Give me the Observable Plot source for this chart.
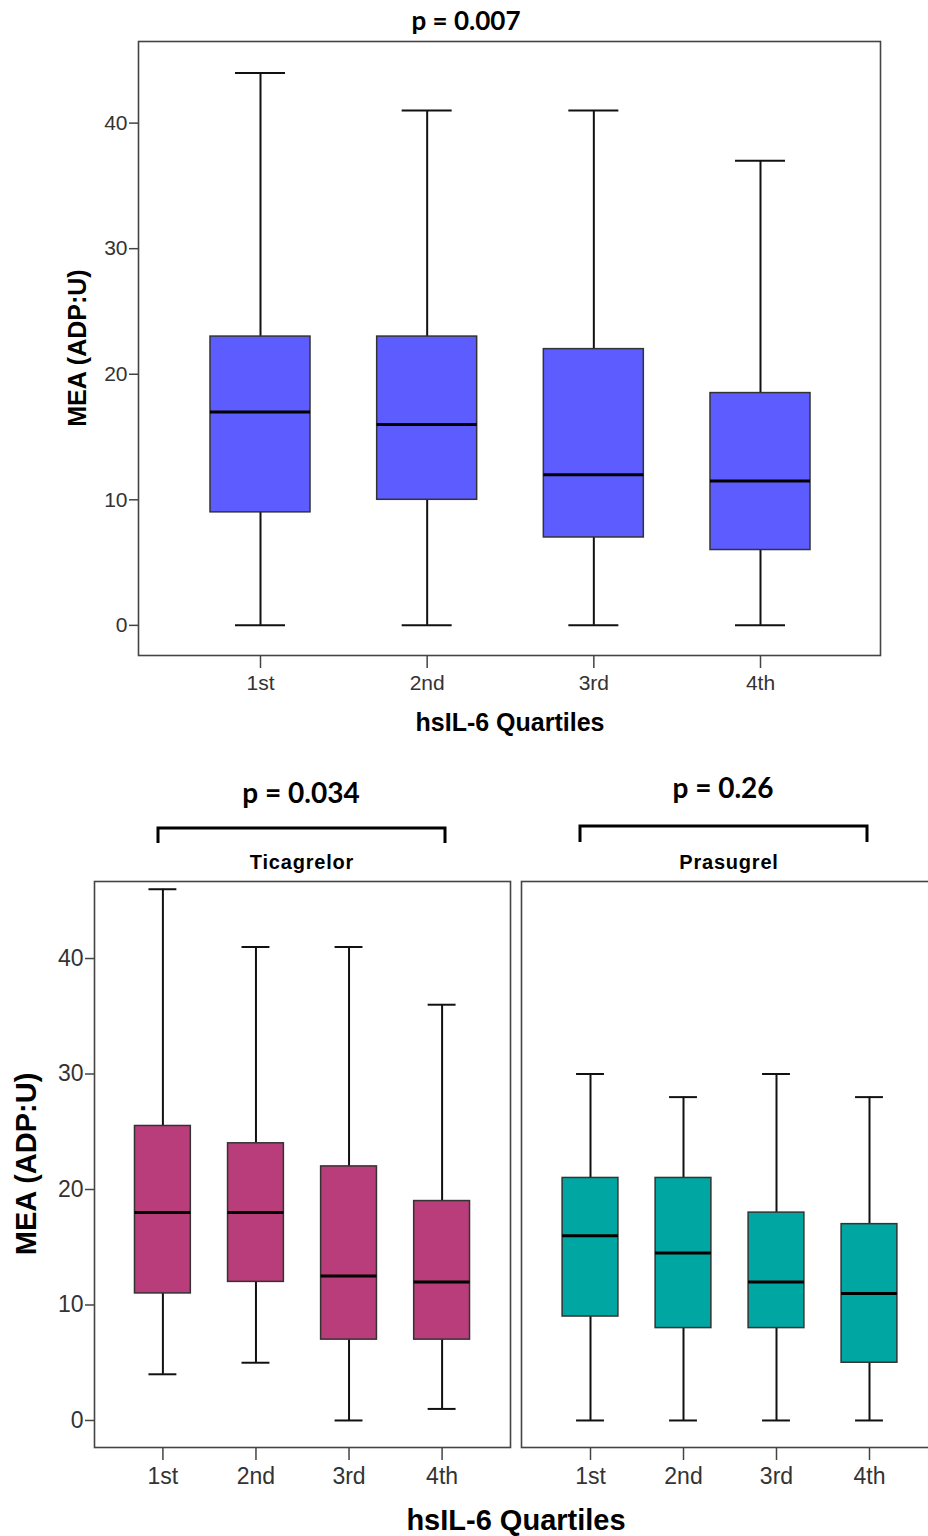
<!DOCTYPE html>
<html>
<head>
<meta charset="utf-8">
<script src="https://cdn.jsdelivr.net/npm/d3@7"></script>
<script src="https://cdn.jsdelivr.net/npm/@observablehq/plot@0.6"></script>
<style>
  html, body { margin: 0; padding: 0; background: #fff; }
  #root { position: relative; width: 928px; height: 1536px; overflow: hidden; background: #fff; }
  #root > * { position: absolute; }
</style>
</head>
<body>
<div id="root"></div>
<script>
// ---- data ----
const quartiles = ["1st", "2nd", "3rd", "4th"];
const yTicks = [0, 10, 20, 30, 40];

// All patients
const allMin = [0, 0, 0, 0];
const allQ1  = [9, 10, 7, 6];
const allMed = [17, 16, 12, 11.5];
const allQ3  = [23, 23, 22, 18.5];
const allMax = [44, 41, 41, 37];

// Ticagrelor
const ticaMin = [4, 5, 0, 1];
const ticaQ1  = [11, 12, 7, 7];
const ticaMed = [18, 18, 12.5, 12];
const ticaQ3  = [25.5, 24, 22, 19];
const ticaMax = [46, 41, 41, 36];

// Prasugrel
const prasMin = [0, 0, 0, 0];
const prasQ1  = [9, 8, 8, 5];
const prasMed = [16, 14.5, 12, 11];
const prasQ3  = [21, 21, 18, 17];
const prasMax = [30, 28, 30, 28];

const pAll = "p = 0.007";
const pTica = "p = 0.034";
const pPras = "p = 0.26";
const groupNames = ["Ticagrelor", "Prasugrel"];
const xTitle = "hsIL-6 Quartiles";
const yTitle = "MEA (ADP:U)";

const rowsOf = (mn, q1, md, q3, mx) => quartiles.map((q, k) => ({
  i: k + 1, q, min: mn[k], q1: q1[k], med: md[k], q3: q3[k], max: mx[k]
}));

const FONT = "'Liberation Sans', Arial, Helvetica, sans-serif";

function boxPlot({rows, color, width, height, mt, mb, ml, mr, xDomain, yDomain, showY, tickFont, tickFontY}) {
  const marks = [
    Plot.ruleX(rows, {x: "i", y1: "min", y2: "q1", stroke: "#111", strokeWidth: 2}),
    Plot.ruleX(rows, {x: "i", y1: "q3", y2: "max", stroke: "#111", strokeWidth: 2}),
    Plot.ruleY(rows, {y: "max", x1: d => d.i - 0.15, x2: d => d.i + 0.15, stroke: "#111", strokeWidth: 2}),
    Plot.ruleY(rows, {y: "min", x1: d => d.i - 0.15, x2: d => d.i + 0.15, stroke: "#111", strokeWidth: 2}),
    Plot.rect(rows, {x1: d => d.i - 0.3, x2: d => d.i + 0.3, y1: "q1", y2: "q3", fill: color, stroke: "#333", strokeWidth: 1.5}),
    Plot.ruleY(rows, {y: "med", x1: d => d.i - 0.3, x2: d => d.i + 0.3, stroke: "#000", strokeWidth: 3}),
    Plot.frame({stroke: "#444", strokeWidth: 1.6}),
    Plot.axisX({ticks: [1, 2, 3, 4], tickFormat: i => quartiles[i - 1], tickSize: 13, tickPadding: 7,
                fontSize: tickFont, label: null, stroke: "#444", strokeWidth: 1.5})
  ];
  if (showY) marks.push(Plot.axisY({ticks: yTicks, tickSize: 9, tickPadding: 2, fontSize: tickFontY,
                                    label: null, stroke: "#444", strokeWidth: 1.5}));
  return Plot.plot({
    width, height,
    marginTop: mt, marginBottom: mb, marginLeft: ml, marginRight: mr,
    x: {type: "linear", domain: xDomain, axis: null},
    y: {domain: yDomain, axis: null},
    style: {fontFamily: FONT, color: "#333", background: "transparent", overflow: "visible"},
    marks
  });
}

const root = document.getElementById("root");

// Top chart
const topChart = boxPlot({rows: rowsOf(allMin, allQ1, allMed, allQ3, allMax), color: "#5c5cff",
  width: 928, height: 760, mt: 41, mb: 105, ml: 138, mr: 48, xDomain: [0.268, 4.72], yDomain: [-2.4, 46.5],
  showY: true, tickFont: 21, tickFontY: 21});
topChart.style.left = "0px"; topChart.style.top = "0px";
root.appendChild(topChart);

// Bottom left: Ticagrelor
const leftChart = boxPlot({rows: rowsOf(ticaMin, ticaQ1, ticaMed, ticaQ3, ticaMax), color: "#b93d7a",
  width: 515, height: 676, mt: 21, mb: 89, ml: 94, mr: 5, xDomain: [0.265, 4.735], yDomain: [-2.34, 46.67],
  showY: true, tickFont: 23, tickFontY: 23});
leftChart.style.left = "0px"; leftChart.style.top = "860px";
root.appendChild(leftChart);

// Bottom right: Prasugrel
const rightChart = boxPlot({rows: rowsOf(prasMin, prasQ1, prasMed, prasQ3, prasMax), color: "#00a6a1",
  width: 427, height: 676, mt: 21, mb: 89, ml: 10, mr: 0, xDomain: [0.258, 4.742], yDomain: [-2.34, 46.67],
  showY: false, tickFont: 23, tickFontY: 23});
rightChart.style.left = "511px"; rightChart.style.top = "860px";
root.appendChild(rightChart);

// Overlay annotations
const ov = d3.create("svg").attr("width", 928).attr("height", 1536)
  .style("left", "0px").style("top", "0px").style("pointer-events", "none")
  .style("font-family", FONT);

function txt(s, x, y, size, opts = {}) {
  const t = ov.append("text").attr("x", x).attr("y", y).attr("text-anchor", "middle")
    .attr("font-size", size).attr("font-weight", "bold").attr("fill", "#000").text(s);
  if (opts.family) t.attr("font-family", opts.family);
  if (opts.rotate) t.attr("transform", `rotate(-90 ${x} ${y})`);
  if (opts.ls) t.attr("letter-spacing", opts.ls);
  return t;
}
const PFONT = "Lato, 'Open Sans', sans-serif";
txt(pAll, 466, 30, 26, {family: PFONT});
txt(yTitle, 86, 348, 25, {rotate: true});
txt(xTitle, 510, 731, 25);

txt(pTica, 301, 803, 28, {family: PFONT});
txt(pPras, 723, 798, 28, {family: PFONT});
ov.append("path").attr("d", "M158,843V828H445V843").attr("fill", "none").attr("stroke", "#000").attr("stroke-width", 3);
ov.append("path").attr("d", "M580,842V826H867V842").attr("fill", "none").attr("stroke", "#000").attr("stroke-width", 3);
txt(groupNames[0], 302, 869, 20, {ls: "0.8px"});
txt(groupNames[1], 729, 869, 20, {ls: "0.8px"});

txt(yTitle, 36, 1164, 29, {rotate: true});
txt(xTitle, 516, 1530, 29);

root.appendChild(ov.node());
</script>
</body>
</html>
